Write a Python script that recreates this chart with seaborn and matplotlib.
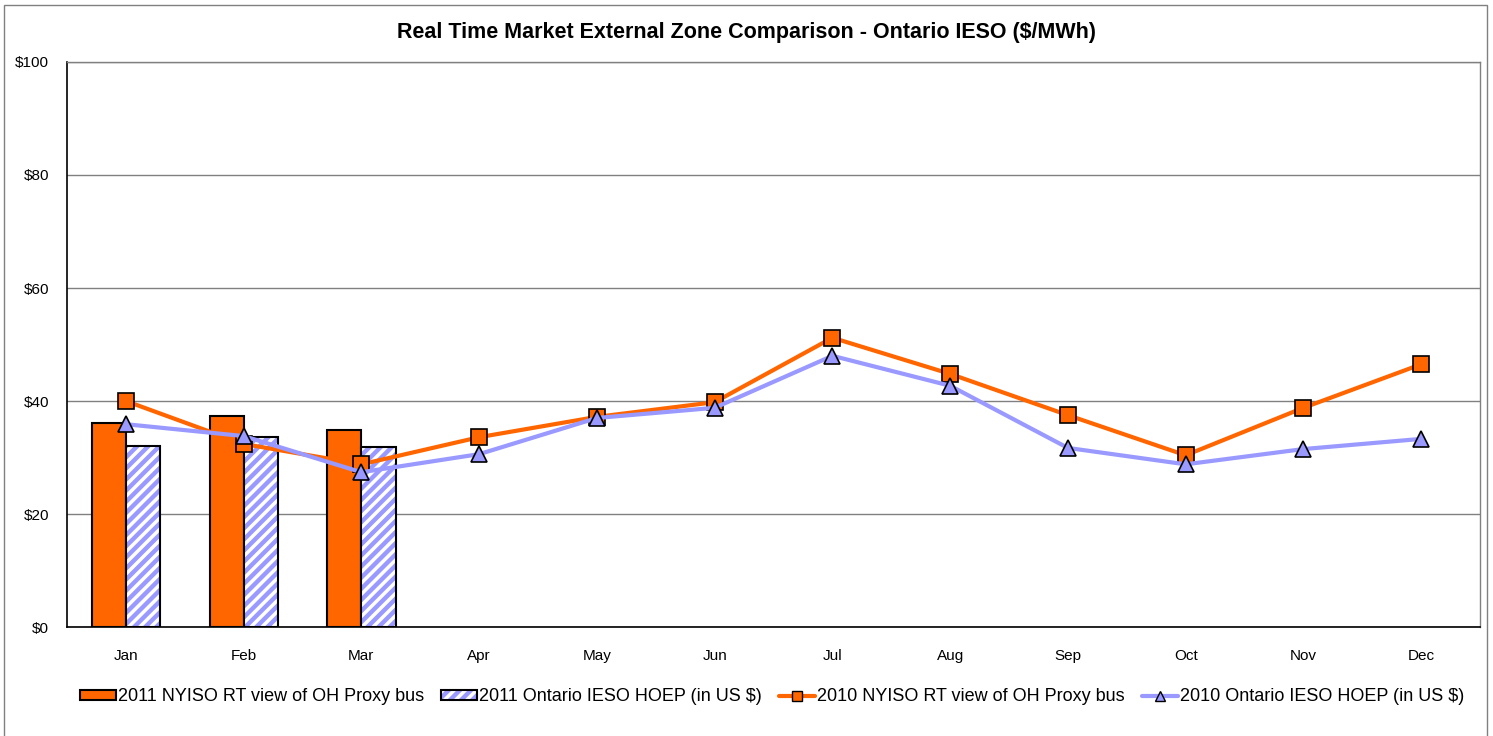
import matplotlib.pyplot as plt
import matplotlib.patches as mpatches
from matplotlib.lines import Line2D
import numpy as np
import pandas as pd
import seaborn as sns

months = ["Jan", "Feb", "Mar", "Apr", "May", "Jun",
          "Jul", "Aug", "Sep", "Oct", "Nov", "Dec"]

bar_months = ["Jan", "Feb", "Mar"]
nyiso_2011 = [36.1, 37.3, 34.9]
ieso_2011 = [32.0, 33.6, 31.9]

nyiso_2010 = [40.0, 32.4, 28.8, 33.6, 37.2, 39.8, 51.2, 44.8, 37.5, 30.4, 38.8, 46.5]
ieso_2010 = [35.9, 33.8, 27.4, 30.6, 37.0, 38.8, 48.0, 42.7, 31.7, 28.8, 31.5, 33.3]

bar_labels = ["2011 NYISO RT view of OH Proxy bus", "2011 Ontario IESO HOEP (in US $)"]
line_labels = ["2010 NYISO RT view of OH Proxy bus", "2010 Ontario IESO HOEP (in US $)"]
yticks = [0, 20, 40, 60, 80, 100]

orange = "#FF6600"
lavender = "#9999FF"

sns.set_style("white")
plt.rcParams["font.family"] = ["Liberation Sans", "DejaVu Sans"]
plt.rcParams["hatch.linewidth"] = 2.5
plt.rcParams["text.color"] = "black"
plt.rcParams["xtick.color"] = "black"
plt.rcParams["ytick.color"] = "black"

bars = pd.DataFrame({
    "month": bar_months * 2,
    "series": [bar_labels[0]] * 3 + [bar_labels[1]] * 3,
    "value": nyiso_2011 + ieso_2011,
})

fig = plt.figure(figsize=(14.93, 7.36), dpi=100)
ax = fig.add_axes([0.0449, 0.148, 0.9464, 0.7678])

sns.barplot(data=bars, x="month", y="value", hue="series", order=months,
            hue_order=bar_labels, palette=[orange, lavender], saturation=1,
            width=0.58, gap=0, edgecolor="black", linewidth=1.5, legend=False, ax=ax)

# hatch the IESO bars: white stripes on lavender, black outline on top
for p in ax.patches[3:6]:
    p.set_facecolor(lavender)
    p.set_edgecolor("white")
    p.set_hatch("///")
    p.set_linewidth(0)
    outline = mpatches.Rectangle(p.get_xy(), p.get_width(), p.get_height(),
                                 fill=False, edgecolor="black", linewidth=1.5,
                                 zorder=p.get_zorder() + 0.1)
    ax.add_patch(outline)

x = np.arange(len(months))
ax.plot(x, nyiso_2010, color=orange, lw=3, marker="s", markersize=11,
        markerfacecolor=orange, markeredgecolor="black", markeredgewidth=1.2, zorder=5)
ax.plot(x, ieso_2010, color=lavender, lw=3, marker="^", markersize=11,
        markerfacecolor=lavender, markeredgecolor="black", markeredgewidth=1.2, zorder=6)

ax.set_xlim(-0.5, 11.5)
ax.set_ylim(0, 100)
ax.set_yticks(yticks)
ax.set_yticklabels([f"${v}" for v in yticks], fontsize=11)
ax.set_xticks(x)
ax.set_xticklabels(months, fontsize=11)
ax.set_xticks(np.arange(-0.5, 12, 1), minor=True)
ax.tick_params(axis="x", which="major", length=0, pad=16)
ax.tick_params(axis="x", which="minor", length=5, width=1, color="black", direction="out")
ax.tick_params(axis="y", length=5, width=1, color="black", direction="out", pad=8)
ax.set_xlabel("")
ax.set_ylabel("")

ax.yaxis.grid(True, color="#808080", linewidth=1)
ax.set_axisbelow(True)
for side in ["left", "bottom"]:
    ax.spines[side].set_color("black")
    ax.spines[side].set_linewidth(1.2)
for side in ["top", "right"]:
    ax.spines[side].set_color("#808080")
    ax.spines[side].set_linewidth(1)

fig.text(0.5, 0.956, "Real Time Market External Zone Comparison - Ontario IESO ($/MWh)",
         ha="center", va="center", fontsize=15.5, fontweight="bold")

handles = [
    mpatches.Patch(facecolor=orange, edgecolor="black", linewidth=1.5),
    (mpatches.Patch(facecolor=lavender, edgecolor="white", hatch="///", linewidth=0),
     mpatches.Patch(fill=False, edgecolor="black", linewidth=1.5)),
    Line2D([], [], color=orange, lw=3, marker="s", markersize=7,
           markerfacecolor=orange, markeredgecolor="black"),
    Line2D([], [], color=lavender, lw=3, marker="^", markersize=7,
           markerfacecolor=lavender, markeredgecolor="black"),
]
fig.legend(handles, bar_labels + line_labels, loc="center", bbox_to_anchor=(0.517, 0.053),
           ncol=4, frameon=False, fontsize=13, handlelength=2.0, handleheight=0.5,
           handletextpad=0.1, columnspacing=0.95)

fig.patches.append(mpatches.Rectangle((0.003, -0.01), 0.993, 1.003, transform=fig.transFigure,
                                      fill=False, edgecolor="#808080", linewidth=1))

fig.savefig("out.png", dpi=100)
